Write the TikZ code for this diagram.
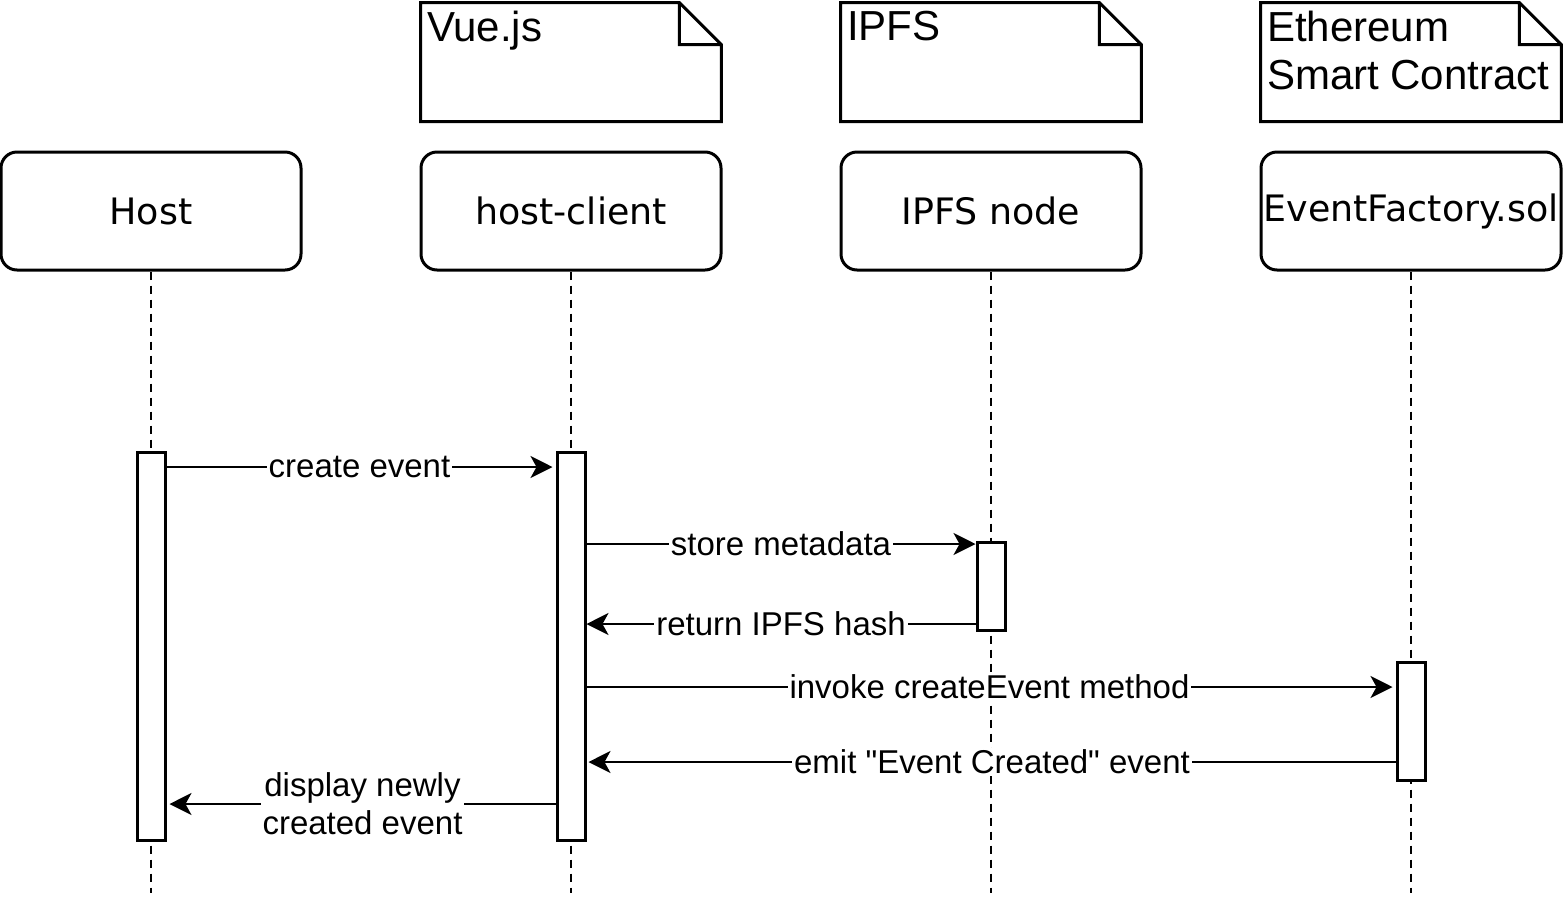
\documentclass[tikz,border=0pt]{standalone}
\usepackage{fontspec}
\setmainfont{Liberation Sans}[Ligatures=TeXOff]
\newfontfamily\headfont{DejaVu Sans}
\usetikzlibrary{positioning,arrows.meta}

\begin{document}
\begin{tikzpicture}[
        x=0.5pt, y=-0.5pt,
        head/.style={draw, line width=1.5pt, rounded corners=8pt, inner xsep=0pt,
            minimum width=150pt, minimum height=59pt,
            font=\headfont\fontsize{18.2}{21}\selectfont},
        note/.style={minimum width=150pt, minimum height=59pt},
        notetext/.style={anchor=north west, align=left, inner xsep=3pt, inner ysep=4pt,
            font=\fontsize{21}{24}\selectfont},
        bar/.style={draw, fill=white, line width=1.5pt, minimum width=14pt, inner sep=0pt},
        life/.style={line width=1pt, dash pattern=on 4pt off 3pt},
        msg/.style={line width=1pt, -{Stealth[length=11pt, width=11pt, inset=3pt]}},
        lbl/.style={fill=white, inner sep=1pt, font=\fontsize{16.5}{19}\selectfont}
    ]
        \useasboundingbox (0,0) rectangle (1563,906);

        % lifeline heads
        \node[head] (host) at (151,211) {Host};
        \node[head, right=58.5pt of host] (client) {host-client};
        \node[head, right=58.5pt of client] (ipfs) {IPFS node};
        \node[head, right=58.5pt of ipfs] (factory) {EventFactory.sol};

        % notes
        \node[note, above=14.5pt of client] (vue) {};
        \node[note, above=14.5pt of ipfs] (ipfsnote) {};
        \node[note, above=14.5pt of factory] (eth) {};
        \foreach \n in {vue,ipfsnote,eth}
            \draw[line width=1.5pt] (\n.north west) -- ([xshift=-21pt]\n.north east)
                -- ([yshift=-21pt]\n.north east) -- (\n.south east) -- (\n.south west) -- cycle
                ([xshift=-21pt]\n.north east) -- ([xshift=-21pt, yshift=-21pt]\n.north east)
                -- ([yshift=-21pt]\n.north east);
        \node[notetext] (vuetext) at (vue.north west) {Vue.js};
        \node[notetext] (ipfstext) at (ipfsnote.north west) {IPFS};
        \node[notetext] (ethtext) at (eth.north west) {Ethereum\\Smart Contract};

        % lifelines
        \foreach \n in {host,client,ipfs,factory}
            \draw[life] (\n.south) -- (\n.south |- 0,893);

        % activations
        \node[bar, minimum height=194pt] (hostbar) at (host |- 0,646) {};
        \node[bar, minimum height=194pt] (clientbar) at (client |- 0,646) {};
        \node[bar, minimum height=44pt] (ipfsbar) at (ipfs |- 0,586) {};
        \node[bar, minimum height=59pt] (factorybar) at (factory |- 0,721) {};

        % messages
        \draw[msg] (hostbar.east |- 0,467) -- node[lbl] {create event} ([xshift=-1.5pt]clientbar.west |- 0,467);
        \draw[msg] (clientbar.east |- 0,544) -- node[lbl] {store metadata} (ipfsbar.west |- 0,544);
        \draw[msg] (ipfsbar.west |- 0,624) -- node[lbl] {return IPFS hash} (clientbar.east |- 0,624);
        \draw[msg] (clientbar.east |- 0,687) -- node[lbl] {invoke createEvent method} ([xshift=-1.5pt]factorybar.west |- 0,687);
        \draw[msg] (factorybar.west |- 0,762) -- node[lbl] {emit "Event Created" event} ([xshift=1pt]clientbar.east |- 0,762);
        \draw[msg] (clientbar.west |- 0,804) -- node[lbl, align=center] {display newly\\created event} ([xshift=1.5pt]hostbar.east |- 0,804);
    \end{tikzpicture}
\end{document}
